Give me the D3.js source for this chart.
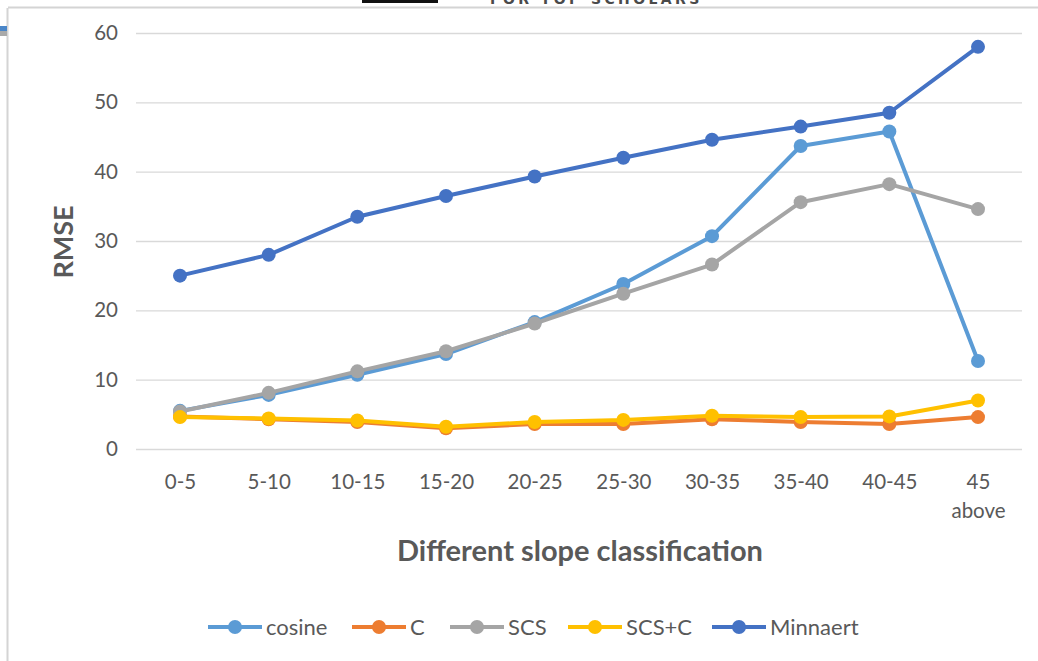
<!DOCTYPE html>
<html>
<head>
<meta charset="utf-8">
<script src="https://cdn.jsdelivr.net/npm/d3@7"></script>
<style>
  html, body { margin: 0; padding: 0; background: #ffffff; }
  svg { display: block; font-family: Lato, "Open Sans", sans-serif; }
</style>
</head>
<body>
<svg id="chart" width="1038" height="661"></svg>
<script>
// Slope classes (degrees)
const categories = ["0-5", "5-10", "10-15", "15-20", "20-25", "25-30", "30-35", "35-40", "40-45", "45 above"];

// RMSE per topographic correction method
const cosine   = [5.5, 7.8, 10.7, 13.7, 18.3, 23.8, 30.7, 43.7, 45.8, 12.7];
const cMethod  = [4.7, 4.3, 3.9, 3.0, 3.6, 3.6, 4.3, 3.9, 3.6, 4.6];
const scs      = [5.4, 8.1, 11.2, 14.1, 18.1, 22.4, 26.6, 35.6, 38.2, 34.6];
const scsC     = [4.6, 4.4, 4.1, 3.2, 3.9, 4.2, 4.8, 4.6, 4.7, 7.0];
const minnaert = [25.0, 28.0, 33.5, 36.5, 39.3, 42.0, 44.6, 46.5, 48.5, 58.0];

const yTicks = [0, 10, 20, 30, 40, 50, 60];

const seriesNames  = ["cosine", "C", "SCS", "SCS+C", "Minnaert"];
const seriesValues = [cosine, cMethod, scs, scsC, minnaert];
const seriesColors = ["#5B9BD5", "#ED7D31", "#A5A5A5", "#FFC000", "#4472C4"];

const svg = d3.select("#chart");
const textColor = "#595959";

// Outer frame of the chart sheet
svg.append("line").attr("x1", 8).attr("x2", 1038).attr("y1", 7.5).attr("y2", 7.5)
  .attr("stroke", "#d4d4d4").attr("stroke-width", 2);
svg.append("line").attr("x1", 7.5).attr("x2", 7.5).attr("y1", 8).attr("y2", 661)
  .attr("stroke", "#d4d4d4").attr("stroke-width", 2);
svg.append("rect").attr("x", 0).attr("y", 26).attr("width", 7).attr("height", 5).attr("fill", "#4A86C8");
svg.append("rect").attr("x", 0).attr("y", 31).attr("width", 7).attr("height", 5).attr("fill", "#A9A9A9");

// Header strip peeking in at the top edge
svg.append("rect").attr("x", 362).attr("y", 0).attr("width", 76).attr("height", 3).attr("fill", "#111");
svg.append("text").attr("x", 490).attr("y", 4)
  .attr("font-family", "'DejaVu Sans', sans-serif").attr("font-weight", "bold")
  .attr("font-size", 14).attr("letter-spacing", 3.4).attr("fill", "#4a4a4a")
  .text("FOR TOP SCHOLARS");

const x = d3.scalePoint().domain(categories).range([180, 978]);
const y = d3.scaleLinear().domain([0, 60]).range([449, 33]);

// Horizontal gridlines
const gridAxis = d3.axisLeft(y).tickValues(yTicks).tickSize(-(1022 - 136)).tickFormat("");
const grid = svg.append("g").attr("transform", "translate(136,0)").call(gridAxis);
grid.select(".domain").remove();
grid.selectAll(".tick line").attr("stroke", "#d9d9d9").attr("stroke-width", 1.3);

// Y tick labels
const yAxis = d3.axisLeft(y).tickValues(yTicks).tickSize(0).tickPadding(0);
const yg = svg.append("g").attr("transform", "translate(118,0)").call(yAxis);
yg.select(".domain").remove();
yg.selectAll("text").attr("font-size", 20.5).attr("fill", textColor)
  .attr("font-family", "Lato, 'Open Sans', sans-serif");

// X tick labels (wrapped on spaces)
const xAxis = d3.axisBottom(x).tickSize(0).tickPadding(0).tickFormat("");
const xg = svg.append("g").attr("transform", "translate(0,470)").call(xAxis);
xg.select(".domain").remove();
xg.selectAll(".tick").each(function (d) {
  const t = d3.select(this).append("text")
    .attr("text-anchor", "middle").attr("font-size", 20.5).attr("fill", textColor)
    .attr("font-family", "Lato, 'Open Sans', sans-serif");
  d.split(" ").forEach((w, i) => {
    t.append("tspan").attr("x", 0).attr("y", 19 + i * 29).text(w);
  });
});

// Axis titles
svg.append("text").attr("x", 580).attr("y", 561).attr("text-anchor", "middle")
  .attr("font-size", 29).attr("font-weight", "bold").attr("fill", textColor)
  .text("Different slope classification");
svg.append("text").attr("transform", "translate(73,242) rotate(-90)").attr("text-anchor", "middle")
  .attr("font-size", 27).attr("font-weight", "bold").attr("fill", textColor)
  .text("RMSE");

// Series lines and markers
const line = d3.line().x((d, i) => x(categories[i])).y(d => y(d));
seriesValues.forEach((vals, s) => {
  const g = svg.append("g");
  g.append("path").datum(vals).attr("d", line).attr("fill", "none")
    .attr("stroke", seriesColors[s]).attr("stroke-width", 4)
    .attr("stroke-linejoin", "round").attr("stroke-linecap", "round");
  g.selectAll("circle").data(vals).join("circle")
    .attr("cx", (d, i) => x(categories[i])).attr("cy", d => y(d)).attr("r", 7)
    .attr("fill", seriesColors[s]);
});

// Legend
const legendX = [208, 352, 450, 568, 712];
const leg = svg.append("g");
seriesNames.forEach((name, s) => {
  const g = leg.append("g").attr("transform", `translate(${legendX[s]},627)`);
  g.append("line").attr("x1", 0).attr("x2", 54).attr("y1", 0).attr("y2", 0)
    .attr("stroke", seriesColors[s]).attr("stroke-width", 4);
  g.append("circle").attr("cx", 27).attr("cy", 0).attr("r", 7).attr("fill", seriesColors[s]);
  g.append("text").attr("x", 58).attr("y", 7.5).attr("font-size", 22).attr("fill", textColor)
    .text(name);
});
</script>
</body>
</html>
